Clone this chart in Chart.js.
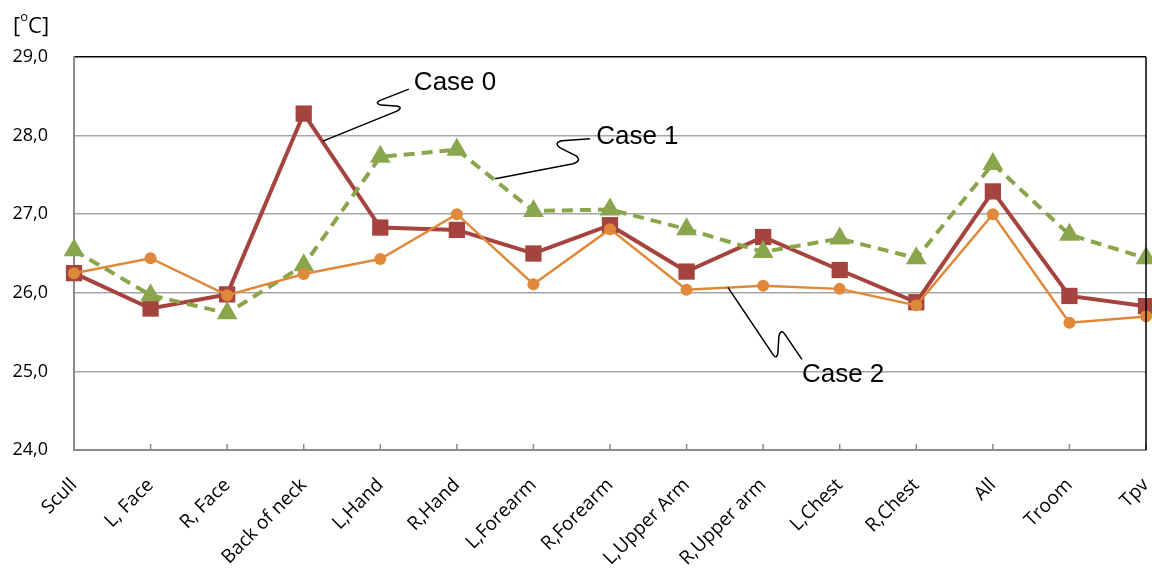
<!DOCTYPE html>
<html>
<head>
<meta charset="utf-8">
<script src="https://cdn.jsdelivr.net/npm/chart.js@4"></script>
<style>
  html, body { margin: 0; padding: 0; background: #fff; }
  #wrap { width: 1152px; height: 569px; }
</style>
</head>
<body>
<div id="wrap"><canvas id="chart"></canvas></div>
<script>
const categories = ['Scull', 'L, Face', 'R, Face', 'Back of neck', 'L,Hand', 'R,Hand', 'L,Forearm',
  'R,Forearm', 'L,Upper Arm', 'R,Upper arm', 'L,Chest', 'R,Chest', 'All', 'Troom', 'Tpv'];

const case0 = [26.25, 25.80, 25.98, 28.28, 26.83, 26.80, 26.50, 26.86, 26.27, 26.71, 26.29, 25.88, 27.29, 25.96, 25.83];
const case1 = [26.54, 25.97, 25.74, 26.35, 27.73, 27.82, 27.04, 27.06, 26.81, 26.52, 26.69, 26.44, 27.64, 26.74, 26.44];
const case2 = [26.25, 26.44, 25.97, 26.24, 26.43, 27.00, 26.11, 26.81, 26.04, 26.09, 26.05, 25.84, 27.00, 25.62, 25.70];

const yTicks = ['24,0', '25,0', '26,0', '27,0', '28,0', '29,0'];
const yMin = 24, yMax = 29;

// callout labels: anchor on the line (category index, value), then squiggle offsets in px
const callouts = [
  { text: 'Case 0', at: [3.25, 27.93],
    path: [['L', 74, -30], ['Q', 81, -34, 73, -35], ['L', 58, -36], ['Q', 51, -38, 58, -41], ['L', 86, -52]],
    label: [91, -58] },
  { text: 'Case 1', at: [5.50, 27.45],
    path: [['L', 78, -15], ['Q', 87, -18, 81, -23], ['L', 65, -31], ['Q', 58, -36, 67, -38], ['L', 95, -40]],
    label: [101, -42] },
  { text: 'Case 2', at: [8.54, 26.07],
    path: [['L', 45, 67], ['Q', 49, 73, 50, 65], ['L', 51, 49], ['Q', 53, 41, 57, 47], ['L', 74, 72]],
    label: [74, 88] }
];

const frame = {
  id: 'frame',
  afterDraw(chart) {
    const { ctx, chartArea: a, scales } = chart;
    ctx.save();
    // inner tick marks on the category axis
    ctx.strokeStyle = '#8c8c8c';
    ctx.lineWidth = 1.5;
    scales.x.ticks.forEach((t, i) => {
      const x = scales.x.getPixelForTick(i);
      ctx.beginPath();
      ctx.moveTo(x, a.bottom);
      ctx.lineTo(x, a.bottom - 6);
      ctx.stroke();
    });
    // right border
    ctx.strokeStyle = '#000';
    ctx.lineWidth = 1.5;
    ctx.beginPath();
    ctx.moveTo(a.right, a.top);
    ctx.lineTo(a.right, a.bottom);
    ctx.stroke();

    // unit label
    ctx.fillStyle = '#000';
    ctx.textBaseline = 'alphabetic';
    ctx.textAlign = 'left';
    ctx.font = '22px "Open Sans"';
    ctx.fillText('[', 13, 33);
    let w = ctx.measureText('[').width;
    ctx.font = '13px "Open Sans"';
    ctx.fillText('o', 13 + w, 21);
    w += ctx.measureText('o').width;
    ctx.font = '22px "Open Sans"';
    ctx.fillText('C]', 13 + w, 33);

    // callouts
    callouts.forEach(c => {
      const x0 = scales.x.getPixelForValue(c.at[0]);
      const y0 = scales.y.getPixelForValue(c.at[1]);
      ctx.strokeStyle = '#000';
      ctx.lineWidth = 1.5;
      ctx.beginPath();
      ctx.moveTo(x0, y0);
      c.path.forEach(p => {
        if (p[0] === 'L') ctx.lineTo(x0 + p[1], y0 + p[2]);
        else ctx.quadraticCurveTo(x0 + p[1], y0 + p[2], x0 + p[3], y0 + p[4]);
      });
      ctx.stroke();
      ctx.font = '26px "Liberation Sans"';
      ctx.textBaseline = 'middle';
      ctx.fillText(c.text, x0 + c.label[0], y0 + c.label[1]);
    });
    ctx.restore();
  }
};

new Chart(document.getElementById('chart'), {
  type: 'line',
  data: {
    labels: categories,
    datasets: [
      {
        label: 'Case 0', data: case0, order: 3,
        borderColor: '#a5433f', backgroundColor: '#a5433f', borderWidth: 4,
        pointStyle: 'rect', pointRadius: 11.5, pointBorderWidth: 0, tension: 0, clip: false
      },
      {
        label: 'Case 1', data: case1, order: 2,
        borderColor: '#8aa64c', backgroundColor: '#8aa64c', borderWidth: 4, borderDash: [11, 7],
        pointStyle: 'triangle', pointRadius: 12, pointBorderWidth: 0, tension: 0, clip: false
      },
      {
        label: 'Case 2', data: case2, order: 1,
        borderColor: '#e0883a', backgroundColor: '#e0883a', borderWidth: 2.5,
        pointStyle: 'circle', pointRadius: 6, pointBorderWidth: 0, tension: 0, clip: false
      }
    ]
  },
  options: {
    responsive: true,
    maintainAspectRatio: false,
    animation: false,
    layout: { autoPadding: false, padding: { top: 57, right: 6, left: 0, bottom: 0 } },
    plugins: { legend: { display: false }, tooltip: { enabled: false } },
    scales: {
      x: {
        offset: false,
        grid: { display: false, drawTicks: false },
        border: { display: true, color: '#8c8c8c', width: 2 },
        ticks: {
          autoSkip: false, maxRotation: 45, minRotation: 45, padding: 24,
          color: '#000', font: { family: 'Open Sans', size: 19 }
        },
        afterFit(scale) {
          scale.height = 119;
          scale.paddingLeft = 0;
          scale.paddingRight = 0;
        }
      },
      y: {
        min: yMin, max: yMax,
        grid: {
          drawTicks: false, lineWidth: 1.5,
          color: ctx => ctx.tick && ctx.tick.value === yMax ? '#000' : '#a6a6a6'
        },
        border: { display: true, color: '#8c8c8c', width: 2 },
        ticks: {
          stepSize: 1, padding: 26, color: '#000',
          font: { family: 'Open Sans', size: 18 },
          callback: v => yTicks[v - yMin]
        },
        afterFit(scale) { scale.width = 74; }
      }
    }
  },
  plugins: [frame]
});
</script>
</body>
</html>
